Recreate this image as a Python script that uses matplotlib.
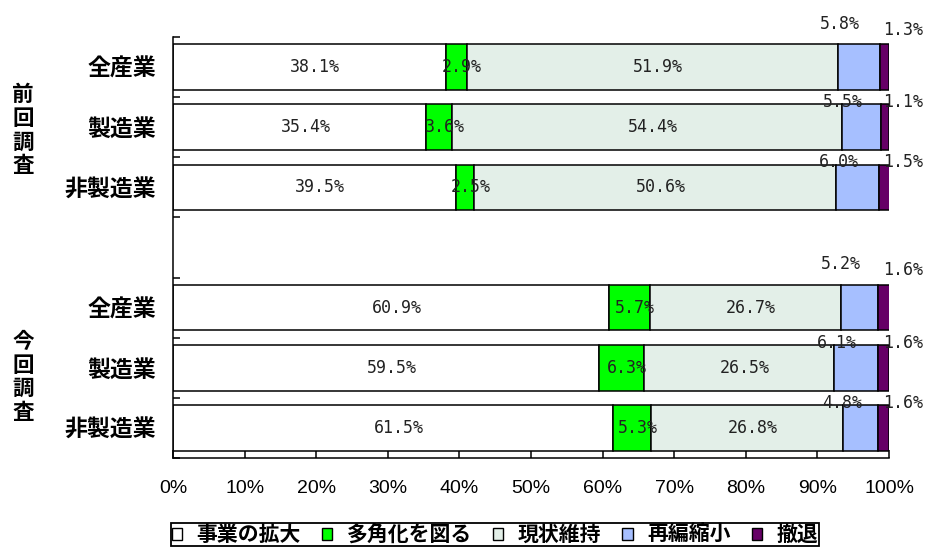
import matplotlib
matplotlib.use("Agg")
import matplotlib.pyplot as plt
from matplotlib.patches import Patch
import matplotlib.transforms as mtransforms
import numpy as np

plt.rcParams['font.family'] = ['Noto Sans CJK JP', 'DejaVu Sans']

groups = ["前回調査", "今回調査"]
industries = ["全産業", "製造業", "非製造業"]
series = ["事業の拡大", "多角化を図る", "現状維持", "再編縮小", "撤退"]
colors = ["#FFFFFF", "#00FF00", "#E3EFE8", "#A6BFFF", "#660066"]

expand = [38.1, 35.4, 39.5, 60.9, 59.5, 61.5]
diversify = [2.9, 3.6, 2.5, 5.7, 6.3, 5.3]
maintain = [51.9, 54.4, 50.6, 26.7, 26.5, 26.8]
shrink = [5.8, 5.5, 6.0, 5.2, 6.1, 4.8]
withdraw = [1.3, 1.1, 1.5, 1.6, 1.6, 1.6]

data = np.array([expand, diversify, maintain, shrink, withdraw])
rows = np.array([0, 1, 2, 4, 5, 6])

fig = plt.figure(figsize=(9.27, 5.5), dpi=100)
ax = fig.add_axes([173/927, 1-458/550, (889-173)/927, (458-37)/550])

left = np.zeros(len(rows))
for vals, col in zip(data, colors):
    ax.barh(rows, vals, left=left, height=0.76, color=col,
            edgecolor="black", linewidth=1.1, zorder=2)
    left += vals

lblfont = dict(family="DejaVu Sans Mono", fontsize=12, color="#222222")
starts = np.vstack([np.zeros(len(rows)), np.cumsum(data, axis=0)[:-1]])
for i, r in enumerate(rows):
    for k in range(3):
        ax.text(starts[k, i] + data[k, i]/2 + 0.8, r, f"{data[k, i]:.1f}%",
                ha="center", va="center", zorder=3, **lblfont)
    # first row of each group has its small labels lifted higher
    up = 0.72 if i % 3 == 0 else 0.42
    upw = 0.62 if i % 3 == 0 else 0.42
    ax.text(starts[3, i] + data[3, i]/2 - 2.6, r - up, f"{data[3, i]:.1f}%",
            ha="center", va="center", zorder=3, **lblfont)
    ax.text(102.0, r - upw, f"{data[4, i]:.1f}%",
            ha="center", va="center", zorder=3, clip_on=False, **lblfont)

ax.set_xlim(0, 100)
ax.set_ylim(6.5, -0.5)
ax.set_xticks(np.arange(0, 101, 10))
ax.set_xticklabels([f"{v}%" for v in range(0, 101, 10)],
                   family="Liberation Sans", fontsize=14)
ax.tick_params(axis="x", direction="in", length=6, width=1.1, pad=16)

ax.set_yticks(np.arange(-0.5, 7, 1))
ax.set_yticklabels([])
ax.tick_params(axis="y", which="major", direction="in", length=5, width=1.1)
ax.set_yticks(rows, labels=industries * 2, minor=True)
ax.tick_params(axis="y", which="minor", length=0, pad=12)
for t in ax.get_yticklabels(minor=True):
    t.set_fontsize(16.5)
    t.set_fontweight("bold")

for s in ["top", "right"]:
    ax.spines[s].set_visible(False)
for s in ["left", "bottom"]:
    ax.spines[s].set_linewidth(1.1)

trans = mtransforms.blended_transform_factory(fig.transFigure, ax.transData)
for g, name in enumerate(groups):
    ax.text(23/927, rows[g*3 + 1] + 0.05 + 0.1*g, "\n".join(name), transform=trans,
            ha="center", va="center", fontsize=15.5, fontweight="bold",
            linespacing=1.15)

handles = [Patch(facecolor=c, edgecolor="black", linewidth=1.0) for c in colors]
leg = fig.legend(handles, series, loc="upper center",
                 bbox_to_anchor=(0.534, 1-523/550), ncol=5, frameon=True,
                 fancybox=False, edgecolor="black", framealpha=1,
                 handlelength=0.5, handleheight=0.5, handletextpad=0.7,
                 columnspacing=1.0, borderpad=0.05, borderaxespad=0,
                 prop=dict(weight="bold", size=15))
leg.get_frame().set_linewidth(1.3)

fig.savefig("out.png", dpi=100)
